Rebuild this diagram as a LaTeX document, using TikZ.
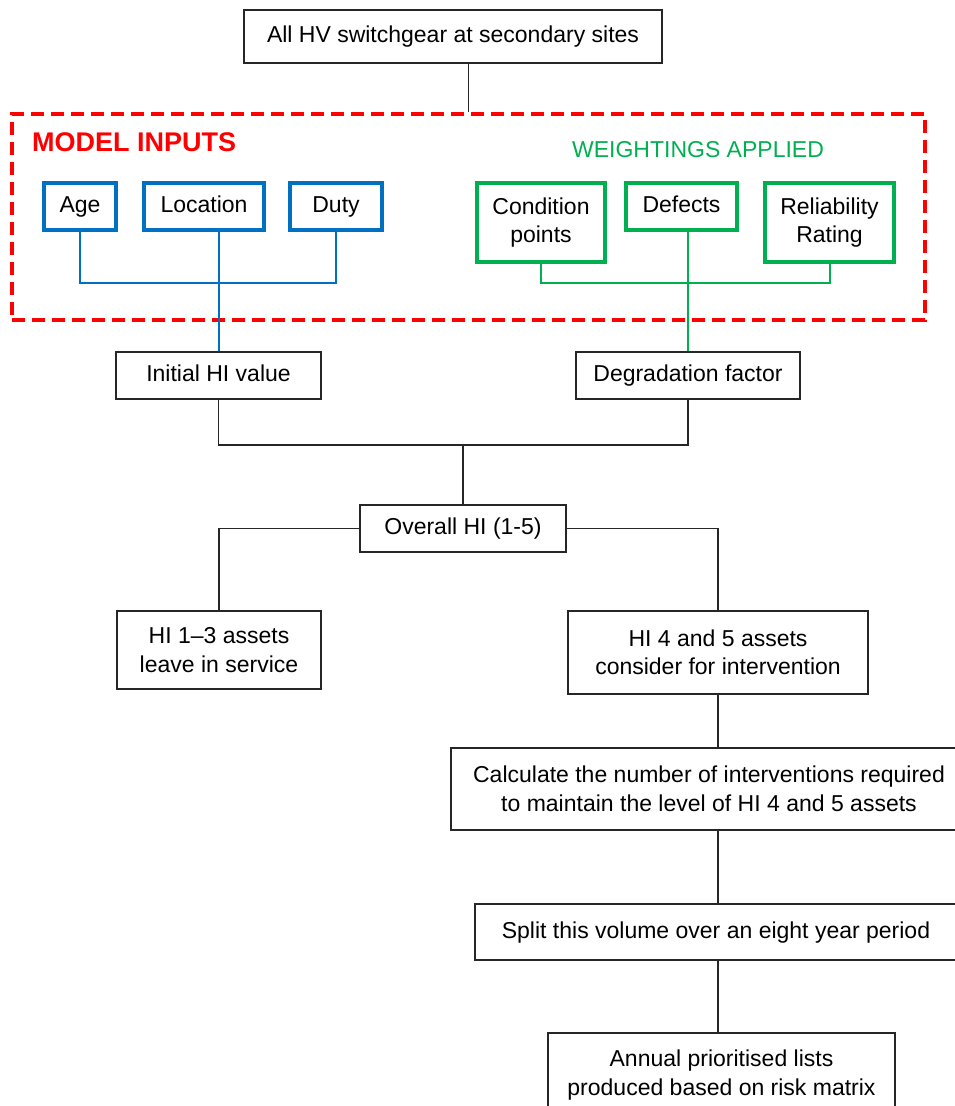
\documentclass[tikz,border=0pt]{standalone}
\usepackage{fontspec}
\setmainfont{Liberation Sans}
\usetikzlibrary{arrows.meta}

\definecolor{inblue}{HTML}{0070C0}
\definecolor{wgreen}{HTML}{00B050}

\begin{document}
\begin{tikzpicture}[x=1pt, y=-1pt,
    every node/.style={font=\fontsize{23}{28.5}\selectfont, align=center, inner sep=0pt},
    single/.style={text height=17pt, text depth=5pt},
    plain/.style={draw=black!85, line width=2pt, fill=white},
    inbox/.style={draw=inblue, line width=4.5pt, fill=white},
    wbox/.style={draw=wgreen, line width=4.5pt, fill=white},
    link/.style={draw=black!85, line width=1.6pt}]

    \useasboundingbox (0,0) rectangle (954,1106);

    % Top of the chart
    \node[plain, single, minimum width=418, minimum height=53] (top) at (453,36.5) {All HV switchgear at secondary sites};

    % Model inputs frame
    \node[draw=red, line width=4pt, dash pattern=on 13pt off 7pt, minimum width=913, minimum height=206] (inputs) at (468.5,217) {};
    \node[anchor=west, text=red, font=\fontsize{27}{32}\selectfont\bfseries] (mtitle) at (32,142) {MODEL INPUTS};
    \node[text=wgreen] (wtitle) at (698,150) {WEIGHTINGS APPLIED};

    \node[inbox, single, minimum width=72, minimum height=47] (age) at (80,206.5) {Age};
    \node[inbox, single, minimum width=120, minimum height=47] (loc) at (204,206.5) {Location};
    \node[inbox, single, minimum width=92, minimum height=47] (duty) at (336,206.5) {Duty};

    \node[wbox, minimum width=128, minimum height=79] (cond) at (541,222.5) {Condition\\points};
    \node[wbox, single, minimum width=111, minimum height=47] (def) at (681.5,206.5) {Defects};
    \node[wbox, minimum width=129, minimum height=79] (rel) at (829.5,222.5) {Reliability\\Rating};

    \coordinate (inbus) at (0,283);

    % Health index
    \node[plain, single, minimum width=205, minimum height=47] (init) at (218.5,375.5) {Initial HI value};
    \node[plain, single, minimum width=224, minimum height=47] (degr) at (688,375.5) {Degradation factor};
    \coordinate (hibus) at (0,445);
    \node[plain, single, minimum width=206, minimum height=47] (overall) at (463,528.5) {Overall HI (1-5)};

    \node[plain, minimum width=204, minimum height=78] (low) at (219,650) {HI 1--3 assets\\leave in service};
    \node[plain, minimum width=300, minimum height=83] (high) at (718,652.5) {HI 4 and 5 assets\\consider for intervention};

    % Intervention steps
    \node[plain, minimum width=516, minimum height=82] (calc) at (709,789) {Calculate the number of interventions required\\to maintain the level of HI 4 and 5 assets};
    \node[plain, single, minimum width=482, minimum height=56] (split) at (716,932) {Split this volume over an eight year period};
    \node[plain, minimum width=347, minimum height=84] (annual) at (721.5,1075) {Annual prioritised lists\\produced based on risk matrix};

    % Connectors
    \draw[link] (inputs.north) -- (inputs.north |- top.south);
    \draw[inblue, line width=2pt] (age.south) -- (age.south |- inbus) -| (duty.south);
    \draw[inblue, line width=2pt] (init.north) -- (init.north |- loc.south);
    \draw[wgreen, line width=2pt] (cond.south) -- (cond.south |- inbus) -| (rel.south);
    \draw[wgreen, line width=2pt] (degr.north) -- (degr.north |- def.south);
    \draw[link] (init.south) -- (init.south |- hibus) -| (degr.south);
    \draw[link] (overall.north) -- (overall.north |- hibus);
    \draw[link] (overall.west) -| (low.north);
    \draw[link] (overall.east) -| (high.north);
    \draw[link] (high.south) -- (high.south |- calc.north);
    \draw[link] (calc.south -| high.south) -- (split.north -| high.south);
    \draw[link] (split.south -| high.south) -- (annual.north -| high.south);

\end{tikzpicture}
\end{document}
